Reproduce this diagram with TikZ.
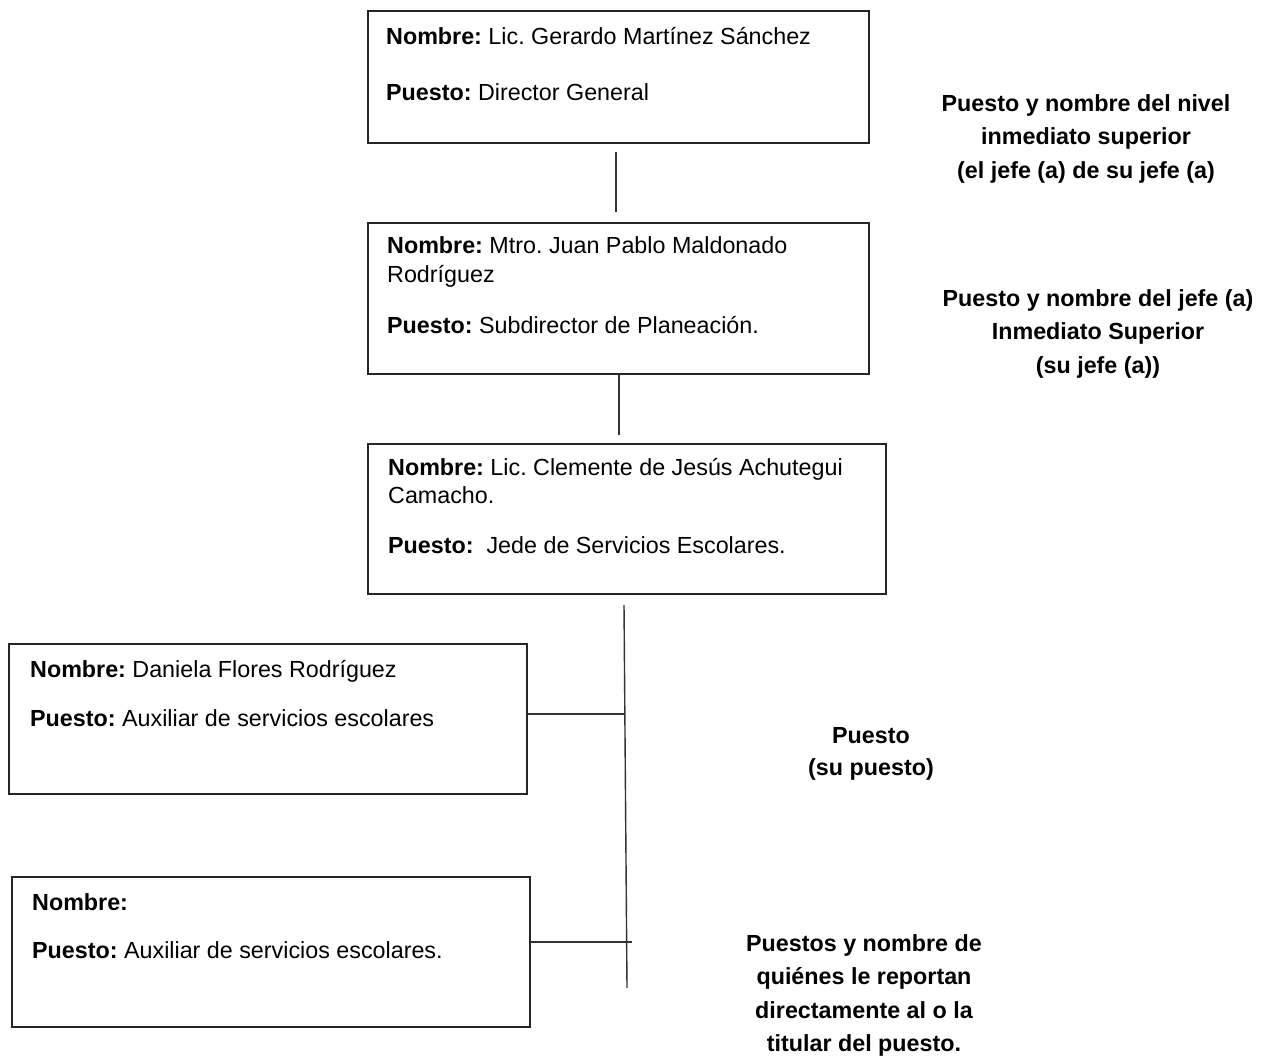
\documentclass[tikz,border=0pt]{standalone}
\usepackage{fontspec}
\setmainfont{Liberation Sans}
\frenchspacing
\begin{document}
\begin{tikzpicture}[x=1pt,y=-1pt,
  box/.style={draw=black!85,line width=1.3pt,rectangle,inner sep=0pt},
  link/.style={draw=black!80,line width=1.4pt},
  txt/.style={inner sep=0pt,anchor=base west,font=\fontsize{23.3}{28}\selectfont},
  note/.style={inner sep=0pt,anchor=base,font=\fontsize{23.3}{28}\selectfont\bfseries}]
\useasboundingbox[fill=white] (0,0) rectangle (1276,1061);

% boxes
\node[box,minimum width=501pt,minimum height=132pt] (b1) at (618.5,77) {};
\node[box,minimum width=501pt,minimum height=151pt] (b2) at (618.5,298.5) {};
\node[box,minimum width=518pt,minimum height=150pt] (b3) at (627,519) {};
\node[box,minimum width=518pt,minimum height=150pt] (b4) at (268,719) {};
\node[box,minimum width=518pt,minimum height=150pt] (b5) at (271,952) {};

% box texts
\node[txt] (b1n) at (386,44) {\textbf{Nombre:} Lic. Gerardo Martínez Sánchez};
\node[txt] (b1p) at (386,100) {\textbf{Puesto:} Director General};
\node[txt] (b2n) at (387,253) {\textbf{Nombre:} Mtro. Juan Pablo Maldonado};
\node[txt] (b2n2) at (387,282.7) {Rodríguez};
\node[txt] (b2p) at (387,333) {\textbf{Puesto:} Subdirector de Planeación.};
\node[txt] (b3n) at (388,475) {\textbf{Nombre:} Lic. Clemente de Jesús Achutegui};
\node[txt] (b3n2) at (388,503) {Camacho.};
\node[txt] (b3p) at (388,553) {\textbf{Puesto:}\ \ Jede de Servicios Escolares.};
\node[txt] (b4n) at (30,677) {\textbf{Nombre:} Daniela Flores Rodríguez};
\node[txt] (b4p) at (30,726) {\textbf{Puesto:} Auxiliar de servicios escolares};
\node[txt] (b5n) at (32,910) {\textbf{Nombre:}};
\node[txt] (b5p) at (32,958) {\textbf{Puesto:} Auxiliar de servicios escolares.};

% side notes
\node[note] (n1a) at (1086,111) {Puesto y nombre del nivel};
\node[note] (n1b) at (1086,144.5) {inmediato superior};
\node[note] (n1c) at (1086,178) {(el jefe (a) de su jefe (a)};
\node[note] (n2a) at (1098,306) {Puesto y nombre del jefe (a)};
\node[note] (n2b) at (1098,339.5) {Inmediato Superior};
\node[note] (n2c) at (1098,373) {(su jefe (a))};
\node[note] (n3a) at (871,743) {Puesto};
\node[note] (n3b) at (871,775) {(su puesto)};
\node[note] (n4a) at (864,951) {Puestos y nombre de};
\node[note] (n4b) at (864,984.5) {quiénes le reportan};
\node[note] (n4c) at (864,1018) {directamente al o la};
\node[note] (n4d) at (864,1051.5) {titular del puesto.};

% connector end points
\coordinate (c1a) at (616,152);
\coordinate (c1b) at (616,212);
\coordinate (c2a) at (619,374);
\coordinate (c2b) at (619,435);
\coordinate (c3a) at (624,605);
\coordinate (c3b) at (627,988);
\coordinate (c4) at (624.5,714);
\coordinate (c5) at (632,942);

% connectors
\draw[link] (c1a) -- (c1b);
\draw[link] (c2a) -- (c2b);
\draw[link] (c3a) -- (c3b);
\draw[link] (b4.east |- c4) -- (c4);
\draw[link] (b5.east |- c5) -- (c5);
\end{tikzpicture}
\end{document}
